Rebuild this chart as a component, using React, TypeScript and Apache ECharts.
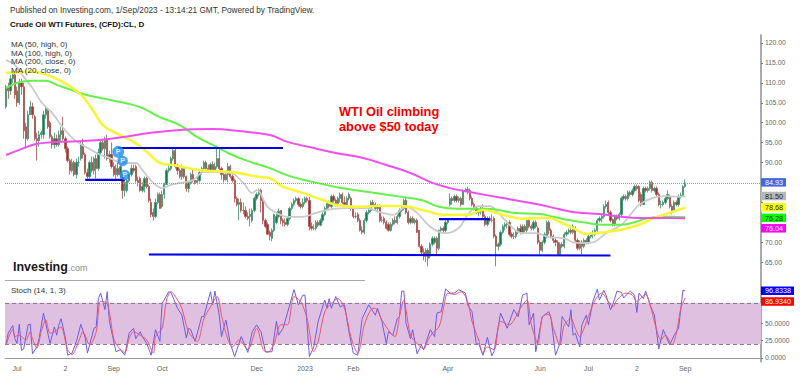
import React, { useEffect, useRef } from "react";
import * as echarts from "echarts";

// [open, close, low, high]
const candlesA = [
[104,109,103.5,109.5],[109,108,106,110],[108,111,107,112],[111,112,110,113],[112,107,106,112.5],[108,105,104,109],[105,110,104.5,111],[110,109,107,111],[109,98,96,110],[99,96,93.5,100],
[96,102,95.5,103],[102,104,102,105.5],[104,102,101,105],[101.5,96,95.5,102],[96,95.5,90.5,97.5],[95.5,97,94,98],[97,97.5,96,98],[97,102,96,103],[102,103.5,101,104],[103,99,98.5,103.5],
[100,96.5,96,100.5],[96.5,94.5,93.5,97],[94.5,96,93.5,97.5],[96,94.5,94,97],[94.5,97,94,98],[97,98,95.5,99],[98,96,95.5,101.5],[96,93.5,92.5,96.5],[93.5,90.5,90,94],[90.5,88,87,91],
[88,90,87.5,91],[90,87,86.5,90.5],[87,90,86,91],[90,90,89,91.5],[91,94.5,90.5,95.5],[94.5,92,91,96],[92,87.5,87,92.5],[87.5,86.5,86,88.5],[86.5,90,86,90.5],[90,88,87.5,91.5],
[88,91,87,91.5],[91,88.5,86,92],[88.5,92.5,88,93.5],[92.5,95,92,95.5],[95,93.5,93,96],[93.5,96,91,96.5],[96,91,90.5,97],[91,92,90,93],[92,89,88.5,95],[89,87,86.5,90],
[87,88.5,86,89.5],[88.5,87,86.5,90],[87,89,86,89.5],[87,83,81,87],[83,85,81.5,85.5],[83,85.5,82.5,86],[85.5,87,85,87.5],[87,88.5,86.5,89.5],[88.5,88,87.5,89.5],[89,85.5,85,89.5],
[85.5,85,84,86.5],[86,83,82.7,86.5],[83,84,82.5,85],[84,86,82.5,86.5],[86,84,83.5,86.5],[84,80.5,80,84.5],[80,77,76.3,81],[77.5,76.5,75.5,78.5],[76.5,80,76,81],[80,82,79.5,82.5],
[82,78.5,78.5,82.5],[79,82,78.5,83],[82,84.5,81,85],[84.5,88,84.5,88.5],[88,88.5,87.5,89.5],[88.5,91,88,91.5],[91,93,90.5,93.7],[93,89,88.5,93.7],[89,88,87,89.7],[88,86.5,86,88.5],
[86.5,88.5,85.7,89.5],[88.5,86.5,86,89],[86.5,83.5,82.7,86.7],[83.5,85,82.5,85.5],[85,87,84.5,87.5],[87,85.5,85,88.5],[85.5,85,84.5,86],[85,85.5,84.5,86.5],[85.5,87.5,85,88.2],[87.5,88.5,87,89],
[88.5,90,88,90.5],[90,88.5,88,90.5],[88.5,88,87.5,89.5],[88,89.5,87.5,90],[89.5,88,87.5,90.3],[88,89,87.5,90],[89,91,88.5,93.8],[91,88.5,88,93.8],[88.5,87,85.7,89],[87,85.7,85,87.5],
];
const candlesB = [
[85.7,87,85.5,87.5],[87,89,85,90],[89,86.5,86,89.5],[86.5,85.5,85,87],[85.5,81,80,86],[81,79.5,79,81.5],[79.5,80,75.5,81],[80,78,77.5,81],[78,78,77,80],[78,76.5,76,79],
[76.5,76,75.5,77.5],[76.5,77,74,78.5],[75.5,78,75,78.5],[78,81,77.5,81.5],[81,82,80.5,82.5],[82,83,81.5,83.5],[83,80.5,77.5,83.5],[80.5,75.5,74.5,81],[75.5,74,73.5,76],[74.5,72,72,75],
[72.5,71.5,70.5,73],[71,73,70.3,73.5],[73,77,72.5,77.2],[75,76.5,74.5,77.5],[76.5,77.8,76,78.5],[78,75.5,74.5,78],[75.5,75,74,76],[75,74.5,74,76],[74.5,76,74,76.5],[76,78.5,75.5,79],
[78.5,79.5,78,80],[79.5,80.5,79,81],[80.5,81,80,81.5],[81,79.5,79,81.3],[79.5,79,78.5,80],[79,80,78.5,81],[80,81,79.5,81.5],[81,80.5,80,81.5],[80.5,74,73,81.5],[74,73.5,73,75],
[73.5,73.5,73,74.5],[73.5,75,73,75.5],[75,74.3,73.8,75.5],[74.3,75.5,74,76],[75.5,77,75,77.5],[77,78.5,76.5,79],[78.5,80,78,80.5],[80,79,78.5,80.5],[79,81.5,78.5,82],[81.5,80.5,80,82],
[80.5,79.5,79,81],[79.5,81,79,81.5],[81,82,80,82.5],[82,80,79.5,82.5],[80,79.5,79,81.5],[79.5,81,79,81.5],[81,82,80.5,82.5],[81,78.5,78,81.5],[78.5,76.5,76,79],[76.5,76.5,76,77.5],
[77,75.5,75,77.5],[75.5,73,72.7,76],[73,72.5,72,74],[72.5,75.5,72,76],[75.5,77.5,75,78],[77.5,78,77,78.5],[78,80,77.5,80.5],[80,79.5,79,80.7],[79.5,78.5,78,80],[78.5,79,77.5,79.5],
[79,75.5,75,79.5],[75.5,75.5,75,76.5],[76,75,74.5,76.5],[75,73.5,73.2,75.5],[74.5,73,72.7,75],[73,74.5,72.7,75],[74.5,75.5,74,76],[75.5,75,74.5,76.5],[75,76.5,74.5,77],[76.5,78,76,78.5],
[78,78.5,77.5,79],[78.5,80.5,78,81],[80.5,77.5,77,81.5],[77.5,75,74.5,78],[75,76,74.5,76.5],[76,75,74.7,76.5],[75,75.5,74.5,76],[75.5,72.5,72.3,76],[73,69,68.7,73],[69,67.5,67,69.5],
[67.5,66.5,65.5,68.5],[66.5,68,65,68.5],[68,66,64,68.5],[66.5,69.5,66,70],[69.5,71,69,71.5],[70,71,69.5,71.5],[71,68.5,67,71.5],[68.5,73,68,73.2],[73,73.5,72.5,74],[73.5,73,72.5,74],
[73,75,72.5,75.5],[75,75.8,74.5,76],
];
const candlesC = [
[79.5,81,79,82.3],[81,80.5,79.5,81.5],[80.5,81.5,80,82],[81.5,80.5,80,82],[80.5,81,80,81.5],[81,79.5,79,81.5],[79.5,83,79.5,83.3],[83,83,82.5,83.7],[83,83.3,82,84],[83,81,80.5,83.5],
[81,79.5,79,81.5],[79.5,78.5,78,80],[78.5,77.5,77,79],[77.5,77.7,76.5,78.5],[77.7,78.5,77,79],[78.5,76.5,76,79.5],[76.5,74.5,74,77],[74.5,76,74,76.5],[76,75.5,75,76.5],[75.5,75.5,75,77],
[76,71.5,71,76.5],[71.5,69,64,72],[69,69.5,68,70],[69.5,72.5,69,73],[72.5,74,72,74.5],[74,74.5,73,75],[74.5,75,73.5,75.5],[75,72,71.5,75.5],[72,71.5,71,72.5],[71.5,71.5,70.8,72.5],
[71.5,72.5,71,73],[72.5,73.5,72,74],[73.5,72.5,72,74.5],[72.5,74,72,74.5],[74,73,72.5,74.5],[73,75.5,72.5,76],[75.5,74,73.5,76],[74,73.5,73,74.5],[73.5,75,73,75.5],[75,74,73.5,75.5],
[73.5,70,69.5,74],[70,68,67,70.5],[68,70,67.5,70.5],[70,72,69.5,72.5],[71.5,75,71,75.5],[75,73,72,75.5],[73,71.5,71,73.5],[71.5,70.5,69.8,72],[70.5,70,69,71],[70,67,66.8,70.5],
[67,69.5,66.8,70],[69.5,69,68.5,70],[69,72,68.5,72.5],[72,72.5,71.5,73],[72.5,73,72,73.5],[73,72.5,72,73.5],[72.5,74,72,74.5],[73.5,70.5,70,74],[70.5,68.5,68,71],[68.5,70,68,70.5],
[70,69,67,70.5],[69,70.5,68.5,71],[70.5,70,69.5,71],[70,71.5,69.5,72],[71.5,72,71,72.5],[72,72,71,73],[72,73,71.5,73.5],[73,75.5,72.5,76],[75.5,76,75,76.5],[76,76.5,75,77],
[76.5,79,76,79.5],[79,79.5,78.5,80.5],[80,77.5,77,80.5],[77.5,75.5,75,78],[75.7,74.5,74,76],[74.5,76.5,74,77],[76.5,76,75.5,77],[76,77,75.5,77.5],[77,81,76.5,81.5],[81,81.5,80.5,82],
[81.5,81,80.5,82],[81,82.5,80.5,83],[82.5,82,81.5,83],[82,83,81.5,83.5],[83,84,82.5,84.5],[84,83.5,83,84.5],[84,80.5,80,84.3],[82,79.5,79,82.5],[79.5,83.5,79.5,84],[83.5,83,82.5,84],
[83,83.5,82.5,84],[83.5,85,83,85.5],[85,83,82.5,85.5],[83,83.5,82.5,84],[83.5,82,81.5,84],[82,79.5,79,82.5],[79.5,79.5,78.5,80.5],[79.5,80,79,80.5],[80,81,79.5,81.5],[81,82,80.5,83],
[81.5,79,78.5,82],[79,78,77,79.5],[78,80,77.5,80.5],[80,79.5,79,80.5],[79.5,81.5,79,82],[81.5,81.8,81,82.5],[81.8,84,81.5,84.3],[84,84.93,83.7,85.8],
];
const candles = [...candlesA, ...candlesB, ...candlesC];

const slotCount = 344;
const tickIndexes = [5, 27, 49, 71, 114, 136, 158, 201, 243, 265, 287, 309];
const tickLabels = ["Jul", "2", "Sep", "Oct", "Dec", "2023", "Feb", "Apr", "Jun", "Jul", "2", "Sep"];
const priceTicks = [65, 70, 80, 90, 95, 100, 105, 110, 115, 120];
const priceLabels = [65, 70, 90, 95, 100, 105, 110, 115, 120];
const stochTicks = [0, 25, 50];

const ma20 = [[0,115.7],[4,114.5],[8,111.5],[12,108.7],[16,105.2],[21,102.4],[26,98.7],[31,95.7],[37,93.7],[43,91.9],[47,91.2],[53,89.9],[59,89.9],[62,88.1],[67,84.9],[71,83.6],[75,84.4],[79,84.9],[85,85.6],[90,87.6],[96,87.6],[102,87.4],[108,84.9],[112,82.4],[114,83.1],[119,78.9],[123,77.4],[128,76.4],[135,76.4],[141,77.4],[149,78.4],[156,78.6],[164,78.6],[170,77.6],[176,76.9],[182,78.9],[187,77.4],[193,73.9],[200,72.3],[206,73.6],[210,76.9],[215,79.1],[220,79.1],[224,77.4],[229,74.4],[235,72.3],[241,72.3],[247,71.3],[254,71],[258,70],[262,69.8],[267,70],[273,72.3],[280,74.4],[284,76.9],[288,79.4],[294,81.1],[300,81.6],[306,81.4],[309,81.5]];
const ma50 = [[0,112.5],[12,112.8],[20,111.7],[28,109.5],[35,106.5],[40,102.7],[44,99.4],[50,97.4],[58,95.2],[64,92.7],[70,89.9],[76,89.4],[88,88.1],[103,87.6],[115,86.4],[120,86.1],[126,83.9],[135,82.4],[144,80.6],[150,79.4],[160,78.9],[169,79.1],[180,79.1],[191,77.9],[199,76.9],[210,76.9],[217,78.1],[226,76.9],[235,75.9],[243,76.1],[247,76.1],[252,75.1],[258,73.6],[264,72.1],[268,72.3],[273,72.6],[281,73.3],[288,74.4],[295,76.1],[303,77.6],[309,78.68]];
const ma100 = [[0,108.7],[5,110],[12,110.5],[18,110.5],[23,109.5],[30,108.2],[35,107.2],[43,106.2],[52,105.2],[61,103.9],[70,101.4],[79,99.4],[87,96.4],[96,93.9],[103,91.9],[111,90.2],[120,88.6],[129,86.6],[140,85.1],[150,83.9],[165,82.6],[180,81.4],[189,80.6],[197,78.9],[205,78.4],[219,78.4],[231,77.4],[243,77.1],[249,76.4],[256,75.6],[264,74.9],[271,74.4],[280,74.4],[285,74.9],[291,75.9],[297,76.4],[303,76.4],[309,76.28]];
const ma200 = [[0,91.9],[6,93.2],[14,94.7],[24,95.2],[35,95.4],[44,95.7],[53,96.4],[65,97.4],[79,98.2],[94,98.4],[106,97.9],[120,96.9],[128,95.2],[138,93.9],[150,92.4],[162,91.2],[173,89.4],[184,87.4],[194,84.9],[202,83.6],[211,82.6],[226,81.1],[243,79.4],[251,78.4],[258,77.6],[270,77.1],[280,76.4],[288,76.1],[295,76.1],[309,76.04]];

const stochK = [[0,21],[1,36],[3,47],[4,28],[5,21],[6,49],[7,11],[8,13],[10,48],[11,49],[12,6],[14,16],[15,28],[17,65],[18,50],[20,21],[22,45],[23,33],[24,48],[25,57],[27,29],[28,4],[30,7],[32,24],[34,49],[36,29],[37,7],[40,43],[41,45],[42,86],[43,94],[45,70],[46,96],[47,53],[50,9],[52,12],[54,4],[56,36],[58,43],[59,28],[61,38],[62,31],[64,21],[66,4],[68,41],[70,24],[71,79],[74,96],[75,95],[78,72],[80,62],[82,29],[83,43],[84,41],[86,24],[89,60],[90,60],[93,96],[94,77],[95,97],[97,62],[98,31],[100,55],[102,21],[104,2],[107,31],[110,8],[112,38],[114,48],[116,38],[118,9],[121,9],[123,53],[124,33],[126,43],[128,65],[131,99],[133,77],[135,91],[136,91],[138,2],[140,16],[142,53],[145,84],[146,72],[147,86],[148,72],[150,89],[152,74],[154,77],[156,38],[158,7],[160,4],[162,57],[165,77],[168,62],[169,72],[171,53],[173,21],[174,38],[176,33],[178,57],[179,60],[180,97],[181,97],[182,50],[184,28],[185,41],[187,6],[189,19],[190,12],[193,41],[195,31],[196,65],[198,67],[200,100],[202,94],[204,94],[206,99],[209,94],[210,77],[212,67],[214,19],[215,21],[217,4],[219,30],[221,3],[222,9],[225,65],[228,43],[231,70],[233,60],[235,91],[237,94],[238,48],[240,65],[241,9],[244,60],[247,67],[248,57],[250,4],[252,21],[253,60],[256,45],[257,70],[258,33],[259,36],[261,16],[262,48],[264,62],[265,48],[267,82],[269,99.5],[270,84],[272,98],[273,91],[275,70],[276,77],[278,97],[280,95],[281,87],[284,97],[286,91],[287,66],[288,94],[290,86],[291,97],[293,77],[295,62],[297,13],[299,41],[302,19],[304,33],[306,43],[308,98.5],[309,96.83]];
const stochD = [[0,19],[3,41],[4,31],[6,33],[9,26],[11,38],[12,28],[14,14],[16,38],[18,55],[20,36],[22,38],[25,45],[26,38],[28,12],[30,5],[33,24],[35,38],[38,19],[41,38],[43,82],[46,79],[49,28],[51,16],[54,8],[56,28],[58,38],[61,33],[64,26],[67,7],[68,31],[71,43],[73,84],[75,96],[78,84],[80,72],[83,38],[87,24],[90,57],[93,74],[96,89],[98,62],[100,36],[103,16],[106,26],[110,12],[114,43],[117,12],[119,8],[122,21],[125,48],[128,48],[131,89],[134,82],[137,57],[140,9],[142,24],[145,67],[148,79],[151,86],[154,72],[157,29],[160,7],[163,48],[166,70],[168,72],[171,55],[175,36],[177,31],[179,60],[181,84],[182,70],[184,33],[187,21],[190,13],[192,26],[194,36],[197,45],[199,72],[201,94],[204,92],[207,96],[210,82],[212,53],[215,26],[217,7],[219,16],[222,12],[225,53],[229,48],[232,60],[234,72],[237,84],[239,48],[242,21],[244,60],[247,63],[249,43],[252,19],[254,48],[257,57],[259,43],[261,31],[263,43],[265,60],[268,84],[271,94],[274,82],[276,74],[278,84],[282,94],[285,91],[287,82],[291,92],[293,77],[296,41],[298,26],[300,33],[303,19],[305,36],[307,72],[309,86.93]];

const levelA = [[51,93.66],[126,93.66]];
const levelB = [[36,85.64],[54,85.64]];
const levelC = [[65,66.95],[275,66.7]];
const levelD = [[197,75.8],[220,75.8]];
const pivots = [[51,92.7],[53,90.4],[54,86.9]];

const maLabels = ["MA (50, high, 0)", "MA (100, high, 0)", "MA (200, close, 0)", "MA (20, close, 0)"];
const priceBadges = [
  { value: 84.93, text: "84.93", bg: "#4169e1", color: "#fff", shift: 0 },
  { value: 81.5, text: "81.50", bg: "#b8b8b8", color: "#222", shift: 0 },
  { value: 78.68, text: "78.68", bg: "#ffff00", color: "#222", shift: 0 },
  { value: 76.28, text: "76.28", bg: "#00ff00", color: "#222", shift: 1 },
  { value: 76.04, text: "76.04", bg: "#ff00ff", color: "#fff", shift: 10.5 },
];
const stochBadges = [
  { value: 96.8338, text: "96.8338", bg: "#0000ff", color: "#fff", shift: 0 },
  { value: 86.934, text: "86.9340", bg: "#ff0000", color: "#fff", shift: 4 },
];

const FONT = "'Liberation Sans', Arial, sans-serif";
const maLine = (name: string, data: number[][], color: string, width: number) => ({
  name, type: "line", data, xAxisIndex: 0, yAxisIndex: 0, showSymbol: false, smooth: 0.4, silent: true,
  lineStyle: { color, width }, z: 4,
});
const level = (name: string, data: number[][]) => ({
  name, type: "line", data, xAxisIndex: 0, yAxisIndex: 0, showSymbol: false, silent: true,
  lineStyle: { color: "#0000e6", width: 2.2 }, z: 5,
});
const label = (text: string, left: number, top: number, font: string, fill = "#222") => ({
  type: "text", left, top, silent: true, z: 20, style: { text, font, fill },
});

export default function App() {
  const ref = useRef<HTMLDivElement>(null);
  useEffect(() => {
    const chart = echarts.init(ref.current!, undefined, { renderer: "svg" });
    const categories = Array.from({ length: slotCount }, (_, i) => String(i));
    const xBase = {
      type: "category", data: categories, boundaryGap: true,
      axisTick: { show: false }, splitLine: { show: false },
    };
    chart.setOption({
      animation: false,
      backgroundColor: "#fff",
      grid: [
        { left: 5, right: 39, top: 35, height: 247.2 },
        { left: 5, right: 39, top: 278.6, height: 82.8 },
      ],
      xAxis: [
        { ...xBase, gridIndex: 0, axisLine: { show: false }, axisLabel: { show: false } },
        {
          ...xBase, gridIndex: 1,
          axisLine: { show: true, lineStyle: { color: "#999", width: 1 } },
          axisLabel: {
            show: true, color: "#666", fontSize: 7, fontFamily: FONT, margin: 4,
            interval: (i: number) => tickIndexes.includes(i),
            formatter: (_: string, i: number) => tickLabels[tickIndexes.indexOf(i)] ?? "",
          },
        },
      ],
      yAxis: [
        {
          type: "value", gridIndex: 0, position: "right", min: 60, max: 122, scale: true,
          axisLine: { show: true, lineStyle: { color: "#aaa", width: 2 } },
          axisTick: { show: true, length: 2, inside: false, lineStyle: { color: "#777" }, customValues: priceTicks },
          axisLabel: {
            show: true, color: "#666", fontSize: 6.8, fontFamily: FONT, margin: 4,
            customValues: priceLabels, formatter: (v: number) => v.toFixed(2),
          },
          splitLine: { show: false },
        },
        {
          type: "value", gridIndex: 1, position: "right", min: -5, max: 115,
          axisLine: { show: true, lineStyle: { color: "#aaa", width: 2 } },
          axisTick: { show: true, length: 2, lineStyle: { color: "#777" }, customValues: stochTicks },
          axisLabel: {
            show: true, color: "#666", fontSize: 6.8, fontFamily: FONT, margin: 4,
            customValues: stochTicks, formatter: (v: number) => v.toFixed(4),
          },
          splitLine: { show: false },
        },
      ],
      series: [
        {
          name: "CL", type: "candlestick", data: candles, xAxisIndex: 0, yAxisIndex: 0, barWidth: 1.8, silent: true, z: 3,
          itemStyle: { color: "#0f7f4f", color0: "#a92b2b", borderColor: "#3f8f6f", borderColor0: "#a8504c", borderWidth: 0.8 },
          markLine: {
            silent: true, symbol: "none", label: { show: false }, animation: false,
            lineStyle: { color: "#7f9fe0", type: [1, 1], width: 1 },
            data: [{ yAxis: 84.93 }],
          },
        },
        maLine("MA 20", ma20, "#cbcbcb", 1.8),
        maLine("MA 100", ma100, "#66f04c", 2),
        maLine("MA 50", ma50, "#f8f538", 2.6),
        maLine("MA 200", ma200, "#ee4fee", 2),
        level("Level A", levelA),
        level("Level B", levelB),
        level("Level C", levelC),
        level("Level D", levelD),
        {
          name: "Pivots", type: "scatter", data: pivots, xAxisIndex: 0, yAxisIndex: 0, silent: true, z: 6,
          symbolSize: (_: unknown, p: { dataIndex: number }) => (p.dataIndex === 0 ? 12 : 10.5),
          itemStyle: { color: "#1e8ceb" },
          label: { show: true, position: "inside", formatter: "P", color: "#fff", fontSize: 7, fontWeight: "bold", fontFamily: FONT },
        },
        {
          name: "%K", type: "line", data: stochK, xAxisIndex: 1, yAxisIndex: 1, showSymbol: false, silent: true, z: 4,
          lineStyle: { color: "#6c5cf0", width: 1 },
          markArea: {
            silent: true, itemStyle: { color: "#dfc0e0" },
            data: [[{ yAxis: 20 }, { yAxis: 80 }]],
          },
          markLine: {
            silent: true, symbol: "none", label: { show: false },
            lineStyle: { color: "#8e7a8e", type: [4, 3], width: 1 },
            data: [{ yAxis: 80 }, { yAxis: 20 }],
          },
        },
        {
          name: "%D", type: "line", data: stochD, xAxisIndex: 1, yAxisIndex: 1, showSymbol: false, smooth: 0.3, silent: true, z: 5,
          lineStyle: { color: "#f2556b", width: 1 },
        },
      ],
    });

    const badge = (b: { value: number; text: string; bg: string; color: string; shift: number }, axis: number) => ({
      type: "text", z: 30, silent: true,
      x: 761,
      y: (chart.convertToPixel({ yAxisIndex: axis }, b.value) as number) + b.shift - 4.7,
      style: {
        text: b.text, font: `7.2px ${FONT}`, fill: b.color,
        backgroundColor: b.bg, padding: [1, 3, 0.5, 4],
      },
    });

    chart.setOption({
      graphic: [
        label("Published on Investing.com, 1/Sep/2023 - 13:14:21 GMT, Powered by TradingView.", 10, 6, `8.25px ${FONT}`, "#333"),
        label("Crude Oil WTI Futures, (CFD):CL, D", 10, 20.5, `bold 8px ${FONT}`, "#111"),
        ...maLabels.map((t, i) => label(t, 11, 40.5 + i * 8.7, `8px ${FONT}`, "#333")),
        label("WTI Oil climbing", 339, 104.5, `bold 12.8px ${FONT}`, "#f00000"),
        label("above $50 today", 339, 119.5, `bold 12.8px ${FONT}`, "#f00000"),
        label("Investing", 13, 260, `bold 12.5px ${FONT}`, "#1a1a1a"),
        label(".com", 68, 263, `9px ${FONT}`, "#8a8a8a"),
        { type: "circle", z: 21, silent: true, shape: { cx: 51.5, cy: 261, r: 1 }, style: { fill: "#f5a623" } },
        label("Stoch (14, 1, 3)", 11, 286.5, `8px ${FONT}`, "#333"),
        { type: "line", silent: true, z: 10, shape: { x1: 5, y1: 280.5, x2: 365, y2: 280.5 }, style: { stroke: "#aaa", lineWidth: 1.2 } },
        ...priceBadges.map((b) => badge(b, 0)),
        ...stochBadges.map((b) => badge(b, 1)),
      ],
    });
    return () => chart.dispose();
  }, []);
  return <div ref={ref} style={{ position: "absolute", left: 0, top: 0, width: 800, height: 376 }} />;
}
